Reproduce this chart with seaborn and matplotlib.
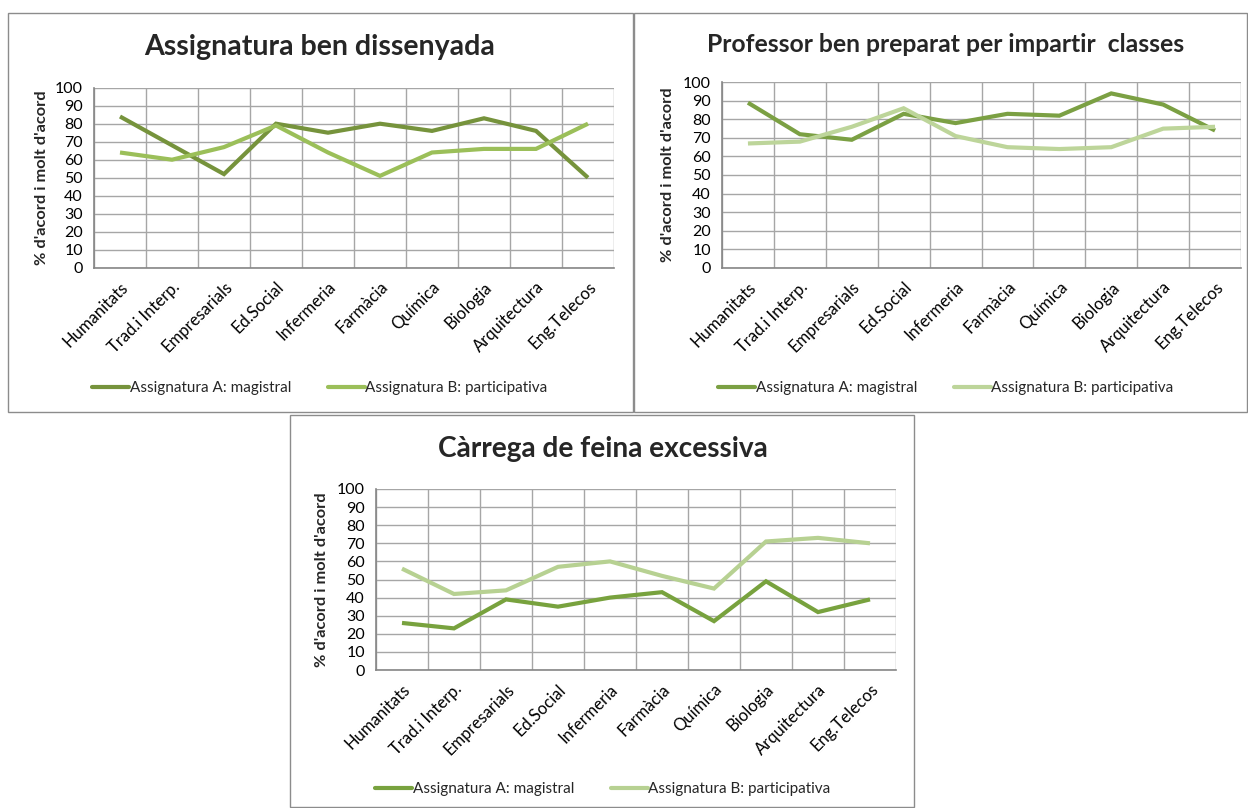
import numpy as np
import pandas as pd
import matplotlib
matplotlib.use("Agg")
import matplotlib.pyplot as plt
from matplotlib.patches import Rectangle
from matplotlib.lines import Line2D
import seaborn as sns

# ---------------- data ----------------
categories = ["Humanitats", "Trad.i Interp.", "Empresarials", "Ed.Social", "Infermeria",
              "Farmàcia", "Química", "Biologia", "Arquitectura", "Eng.Telecos"]
series_names = ["Assignatura A: magistral", "Assignatura B: participativa"]

dissenyada_A = [84, 68, 52, 80, 75, 80, 76, 83, 76, 50]
dissenyada_B = [64, 60, 67, 79, 64, 51, 64, 66, 66, 80]

preparat_A = [89, 72, 69, 83, 78, 83, 82, 94, 88, 74]
preparat_B = [67, 68, 76, 86, 71, 65, 64, 65, 75, 76]

carrega_A = [26, 23, 39, 35, 40, 43, 27, 49, 32, 39]
carrega_B = [56, 42, 44, 57, 60, 52, 45, 71, 73, 70]

titles = ["Assignatura ben dissenyada",
          "Professor ben preparat per impartir  classes",
          "Càrrega de feina excessiva"]
ylabel = "% d'acord i molt d'acord"
yticks = list(range(0, 101, 10))

# ---------------- style ----------------
sns.set_style("white")
plt.rcParams["font.family"] = ["Lato", "DejaVu Sans"]

W, H = 1248, 808
fig = plt.figure(figsize=(W / 100, H / 100), dpi=100)
fig.patch.set_facecolor("white")


def rect(l, t, r, b):
    return [l / W, 1 - b / H, (r - l) / W, (b - t) / H]


def fx(x):
    return x / W


def fy(y):
    return 1 - y / H


panels = [
    dict(A=dissenyada_A, B=dissenyada_B, title=titles[0], tsize=20.5,
         ax=(94, 87.7, 614, 267.7), box=(8, 13, 633, 412),
         tpos=(320, 47), ylab_x=42, leg=(320, 388),
         colors=["#76933C", "#9BBF59"]),
    dict(A=preparat_A, B=preparat_B, title=titles[1], tsize=17.8,
         ax=(722, 82.3, 1241, 267.7), box=(634, 13, 1247, 412),
         tpos=(946, 45), ylab_x=668, leg=(946, 388),
         colors=["#7BA043", "#BDD59A"]),
    dict(A=carrega_A, B=carrega_B, title=titles[2], tsize=20.2,
         ax=(376, 489, 896, 670), box=(290, 415, 914, 807),
         tpos=(603, 449), ylab_x=322, leg=(603, 789),
         colors=["#78A23E", "#B7D192"]),
]

grid_col = "#A6A6A6"
axis_col = "#868686"

for p in panels:
    # panel border
    l, t, r, b = p["box"]
    fig.patches.append(Rectangle((fx(l), fy(b)), (r - l) / W, (b - t) / H,
                                 transform=fig.transFigure, fill=False,
                                 edgecolor="#8C8C8C", linewidth=1.0, zorder=0))

    ax = fig.add_axes(rect(*p["ax"]))
    df = pd.DataFrame({
        "pos": list(range(len(categories))) * 2,
        "value": list(p["A"]) + list(p["B"]),
        "serie": [series_names[0]] * len(categories) + [series_names[1]] * len(categories),
    })
    sns.lineplot(data=df, x="pos", y="value", hue="serie", hue_order=series_names,
                 palette=p["colors"], linewidth=3.0, ax=ax, legend=False,
                 solid_capstyle="butt", solid_joinstyle="miter")

    ax.set_xlim(-0.5, len(categories) - 0.5)
    ax.set_ylim(0, 100)
    ax.set_yticks(yticks)
    ax.set_yticklabels([str(v) for v in yticks], fontsize=11.5, color="black")
    # boundaries as major ticks (grid), centers as minor ticks (labels)
    ax.set_xticks(np.arange(-0.5, len(categories), 1.0))
    ax.set_xticklabels([])
    ax.set_xticks(np.arange(len(categories)), minor=True)
    ax.set_xticklabels(categories, minor=True, rotation=45, ha="right",
                       rotation_mode="anchor", fontsize=12, color="black")
    ax.tick_params(axis="x", which="minor", length=0, pad=8)
    ax.tick_params(axis="x", which="major", length=6, width=1, color=axis_col, direction="out")
    ax.tick_params(axis="y", length=5, width=1, color=axis_col, direction="out", pad=3)
    ax.grid(True, which="major", color=grid_col, linewidth=1.0)
    ax.set_axisbelow(True)
    for s in ["top", "right"]:
        ax.spines[s].set_visible(False)
    for s in ["left", "bottom"]:
        ax.spines[s].set_color(axis_col)
        ax.spines[s].set_linewidth(1.2)
    ax.set_xlabel("")
    ax.set_ylabel("")

    fig.text(fx(p["ylab_x"]), fy((p["ax"][1] + p["ax"][3]) / 2), ylabel,
             rotation=90, ha="center", va="center", fontsize=11.8, fontweight="bold")
    fig.text(fx(p["tpos"][0]), fy(p["tpos"][1]), p["title"], ha="center", va="center",
             fontsize=p["tsize"], fontweight="bold")

    handles = [Line2D([], [], color=c, linewidth=3.0) for c in p["colors"]]
    fig.legend(handles, series_names, loc="center",
               bbox_to_anchor=(fx(p["leg"][0]), fy(p["leg"][1])),
               bbox_transform=fig.transFigure, ncol=2, frameon=False,
               fontsize=11, handlelength=2.4, handletextpad=0.05, columnspacing=2.4)

fig.savefig("out.png", dpi=100, facecolor="white")
